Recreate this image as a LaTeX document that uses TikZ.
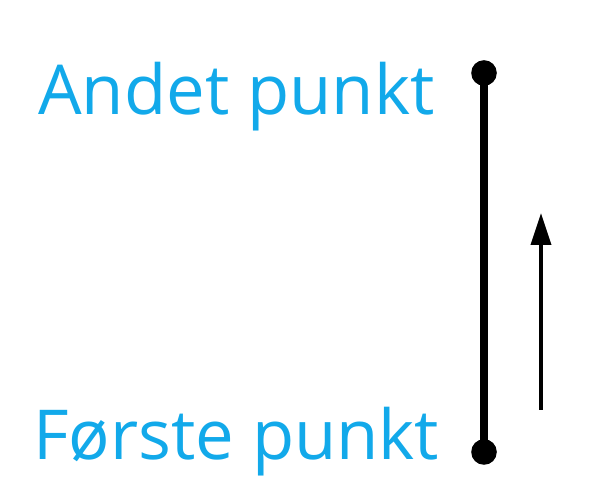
\documentclass[tikz,border=0pt]{standalone}
\usepackage{fontspec}
\setmainfont{Open Sans}
\usepackage{xcolor}
\usetikzlibrary{positioning,arrows.meta}
\definecolor{label}{HTML}{12A9EA}

\begin{document}
\begin{tikzpicture}[
  lbl/.style={font=\fontsize{49}{59}\selectfont,color=label,inner sep=0pt,anchor=base west},
  dot/.style={circle,fill=black,inner sep=0pt,minimum size=6.4mm},
  seg/.style={draw=black,line width=5.7pt},
  dir/.style={draw=black,line width=2.8pt,-{Triangle[length=8mm,width=5mm]}}]
\useasboundingbox (0,0) rectangle (15,12.5);

\node[lbl] (second) at (0.95,9.625) {Andet punkt};
\node[lbl] (first)  at (0.82,1.0) {Første punkt};

\node[dot] (p2) at (12.1,10.675) {};
\node[dot] (p1) at (12.1,1.2) {};
\draw[seg] (p1.center) -- (p2.center);

\coordinate (tail) at (13.525,2.25);
\coordinate (head) at (13.525,7.175);
\draw[dir] (tail) -- (head);
\end{tikzpicture}
\end{document}
